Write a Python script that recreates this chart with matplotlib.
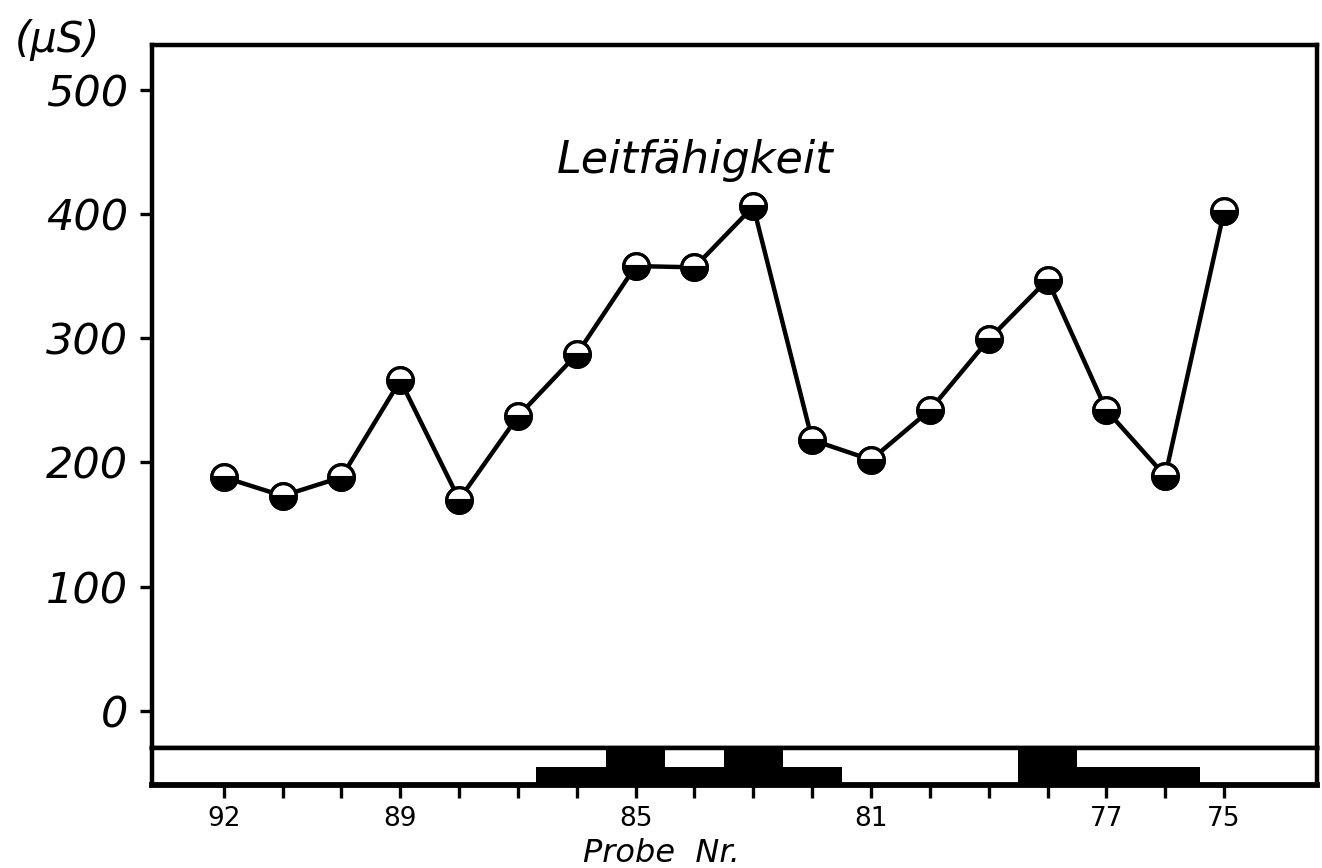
import numpy as np
import matplotlib
matplotlib.use("Agg")
import matplotlib.pyplot as plt

# Leitfähigkeit je Probe
probe_nr = [92, 91, 90, 89, 88, 87, 86, 85, 84, 83, 82, 81, 80, 79, 78, 77, 76, 75]
leitf = [188, 173, 188, 266, 170, 237, 287, 358, 357, 406, 218, 202, 242, 299, 347, 242, 189, 402]

# Profilstreifen unter dem Diagramm (Grenzen in Probe-Nr., Fuellhoehe 0..1)
streifen_grenzen = [93.22, 86.7, 85.5, 84.5, 83.5, 82.5, 81.5, 78.5, 77.5, 75.4, 73.42]
streifen_hoehe = [0.06, 0.5, 1.0, 0.5, 1.0, 0.5, 0.0, 1.0, 0.5, 0.0]

x_beschriftet = [92, 89, 85, 81, 77, 75]
y_ticks = [0, 100, 200, 300, 400, 500]

W, H = 1322, 868
fig = plt.figure(figsize=(W / 100, H / 100), dpi=100)

def box(x0, y0, x1, y1):
    # Pixelkoordinaten (oben links) -> Figurenanteile
    return [x0 / W, 1 - y1 / H, (x1 - x0) / W, (y1 - y0) / H]

ax = fig.add_axes(box(152, 45, 1317, 748))
ax2 = fig.add_axes(box(152, 748, 1317, 785), sharex=ax)

# Linie und Punkte
ax.plot(probe_nr, leitf, color="black", lw=3.2, zorder=2)
ax.plot(probe_nr, leitf, ls="none", marker="o", ms=18.5, mfc="white", mec="black", mew=2.2, zorder=3)
ax.plot(probe_nr, leitf, ls="none", marker="o", ms=18.5, fillstyle="bottom",
        mfc="black", mfcalt="none", mec="black", mew=2.2, zorder=4)

ax.set_xlim(93.22, 73.42)
ax.set_ylim(-30, 536)
ax.set_yticks(y_ticks)
ax.set_yticklabels([str(v) for v in y_ticks], fontsize=31, style="italic")
ax.tick_params(axis="y", direction="out", length=9, width=2.4, pad=8)
ax.tick_params(axis="x", bottom=False, labelbottom=False)
for s in ax.spines.values():
    s.set_linewidth(3.2)

ax.text(0.466, 0.835, "Leitfähigkeit", transform=ax.transAxes, fontsize=32,
        style="italic", ha="center", va="center")

# Streifen
ax2.stairs(streifen_hoehe, streifen_grenzen, fill=True, color="black")
ax2.set_ylim(0, 1)
ax2.set_yticks([])
ax2.set_xticks(probe_nr)
ax2.set_xticklabels([str(p) if p in x_beschriftet else "" for p in probe_nr], fontsize=19)
ax2.tick_params(axis="x", direction="out", length=9, width=2.4, pad=6)
for s in ax2.spines.values():
    s.set_linewidth(3.2)
ax2.spines["bottom"].set_linewidth(4.2)

fig.text(57 / W, 1 - 40 / H, "(µS)", fontsize=30, style="italic", ha="center", va="center")
fig.text(661 / W, 1 - 853 / H, "Probe  Nr.", fontsize=23, style="italic", ha="center", va="center")

fig.savefig("out.png", dpi=100)
